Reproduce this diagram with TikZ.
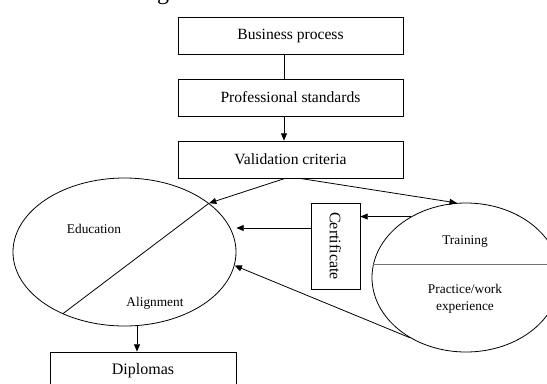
\documentclass[tikz,border=0pt]{standalone}
\usepackage{fontspec}
\setmainfont{Liberation Serif}
\usetikzlibrary{shapes.geometric,arrows.meta,calc}
\begin{document}
\begin{tikzpicture}[x=0.75pt,y=-0.75pt,
 lw/.style={line width=0.6pt},
 box/.style={draw,lw,rectangle,inner sep=0pt,minimum width=168.75pt,minimum height=27.75pt,font=\fontsize{11.7}{14}\selectfont},
 oval/.style={draw,lw,ellipse,inner sep=0pt},
 lbl/.style={font=\fontsize{10}{12.5}\selectfont,align=center,inner sep=0pt},
 arr/.style={lw,-{Triangle[length=5.5pt,width=4.5pt]}},
]
\useasboundingbox (0,0) rectangle (547,383);
\clip (0,0) rectangle (547,383);
\node[font=\fontsize{18}{20}\selectfont,anchor=base,inner sep=0pt] (ttl) at (163,-1) {g};
\node[box] (bp) at (290.5,35.5) {Business process};
\node[box] (ps) at (290.5,97.5) {Professional standards};
\node[box] (vc) at (290.5,159.5) {Validation criteria};
\node[oval,minimum width=167.25pt,minimum height=111pt] (edu) at (124.5,252) {};
\node[oval,minimum width=141pt,minimum height=111.75pt] (trn) at (466,277.5) {};
\node[draw,lw,minimum width=36.75pt,minimum height=64.5pt,inner sep=0pt] (cert) at (335.5,246) {};
\node[rotate=-90,font=\fontsize{12}{14}\selectfont,inner sep=0pt] (certt) at (cert.center) {Certificate};
\node[box,minimum width=139.5pt,font=\fontsize{12}{14}\selectfont] (dip) at (143,370.5) {Diplomas};
\node[lbl] (edut) at (94,229) {Education};
\node[lbl] (alit) at (155,303) {Alignment};
\node[lbl] (trt) at (465,242) {Training};
\node[lbl] (prt) at (465,298.5) {Practice/work\\experience};
\draw[lw] (edu.225) -- (edu.30);
\draw[line width=1.2pt,black!55] (trn.172) -- (trn.172 -| trn.east);
\draw[lw] ($(bp.south)+(-6.5,0)$) -- ($(ps.north)+(-6.5,0)$);
\draw[arr] ($(ps.south)+(-6.5,0)$) -- ($(vc.north)+(-6.5,0)$);
\draw[arr] ($(vc.south)+(-5.5,0)$) -- (edu.30);
\draw[arr] ($(vc.south)+(9.5,0)$) -- (trn.97);
\draw[arr] (trn.132) -- (trn.132 -| cert.east);
\coordinate (c4) at ($(cert.west)+(0,-18)$);
\draw[arr] (c4) -- (c4 -| edu.east);
\draw[arr] (trn.227) -- (edu.-7);
\coordinate (d0) at ($(edu.south)+(12.5,0)$);
\draw[arr] (d0) -- (d0 |- dip.north);
\end{tikzpicture}
\end{document}
